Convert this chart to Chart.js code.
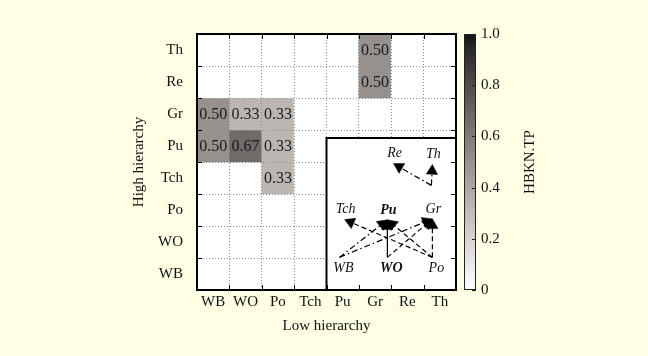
<!DOCTYPE html>
<html><head><meta charset="utf-8">
<script src="https://cdn.jsdelivr.net/npm/chart.js@4"></script>
<style>html,body{margin:0;padding:0;background:#fefee4;} canvas{display:block;}</style>
</head><body>
<canvas id="c" width="648" height="356"></canvas>
<script>
// ---- heatmap data ----
const lowLabels  = ['WB','WO','Po','Tch','Pu','Gr','Re','Th'];
const highLabels = ['Th','Re','Gr','Pu','Tch','Po','WO','WB']; // top to bottom
const rowTh  = [0,0,0,0,0,0.50,0,0];
const rowRe  = [0,0,0,0,0,0.50,0,0];
const rowGr  = [0.50,0.33,0.33,0,0,0,0,0];
const rowPu  = [0.50,0.67,0.33,0,0,0,0,0];
const rowTch = [0,0,0.33,0,0,0,0,0];
const rowPo  = [0,0,0,0,0,0,0,0];
const rowWO  = [0,0,0,0,0,0,0,0];
const rowWB  = [0,0,0,0,0,0,0,0];
const matrix = [rowTh,rowRe,rowGr,rowPu,rowTch,rowPo,rowWO,rowWB];
const cbTicks = [0,0.2,0.4,0.6,0.8,1.0];

// ---- inset network (inset units) ----
const nodeNames  = ['WB','WO','Po','Tch','Pu','Gr','Re','Th','J'];
const nodeLabels = ['WB','WO','Po','Tch','Pu','Gr','Re','Th',''];
const nodeX = [0.40,1.88,3.27,0.56,1.88,3.27,2.07,3.27,3.24];
const nodeY = [1.02,1.02,1.02,2.20,2.19,2.22,3.95,3.92,3.27];
const edgeFrom  = ['WB','WO','Po','WB','WO','Po','Po','J','J'];
const edgeTo    = ['Pu','Pu','Pu','Gr','Gr','Gr','Tch','Re','Th'];
const edgeValue = [0.50,0.67,0.33,0.50,0.33,0.33,0.33,0.50,0.50];
const boldNodes = ['Pu','WO'];
const insetBox = [0,4,0,4.75]; // xmin,xmax,ymin,ymax

const SERIF = "'Liberation Serif','Times New Roman',serif";
Chart.defaults.font.family = SERIF;
Chart.defaults.color = '#111';

function cmapRGB(v){
  const L = 20 + 235*Math.pow(1-v,0.85);
  const t = v*(1-v);
  const c = x => Math.max(0,Math.min(255,Math.round(x)));
  return [c(L+4*t), c(L-22*t), c(L-36*t)];
}
function cmap(v){ const a = cmapRGB(v); return v===0 ? '#ffffff' : `rgb(${a[0]},${a[1]},${a[2]})`; }
function dashFor(v){ return v >= 0.6 ? [] : (v >= 0.45 ? [6,3,1.5,3] : [5,3]); }

const datasets = [];
matrix.forEach((row,i) => {
  const r0 = highLabels.length - 1 - i;
  datasets.push({
    type:'bar', label: highLabels[i], xAxisID:'x', yAxisID:'y', order:10,
    data: row.map(() => [r0, r0+1]),
    cellValues: row,
    backgroundColor: row.map(cmap),
    borderWidth:0, barPercentage:1, categoryPercentage:1, grouped:false
  });
});
const arrowBack = 0.2;
edgeFrom.forEach((f,k) => {
  const a = nodeNames.indexOf(f), b = nodeNames.indexOf(edgeTo[k]);
  const sx = nodeX[a], sy = nodeY[a], tx = nodeX[b], ty = nodeY[b];
  const dx = tx-sx, dy = ty-sy, len = Math.hypot(dx,dy);
  const ax = tx - arrowBack*dx/len, ay = ty - arrowBack*dy/len;
  const ang = Math.atan2(dx,dy)*180/Math.PI;
  datasets.push({
    type:'line', isInset:true, xAxisID:'xi', yAxisID:'yi', order:0,
    data:[{x:sx,y:sy},{x:ax,y:ay}],
    borderColor:'#000', borderWidth:1.2, borderDash: dashFor(edgeValue[k]),
    pointRadius:[0,6.5], pointHoverRadius:[0,6.5], pointStyle:'triangle', pointRotation:[0,ang],
    pointBackgroundColor:'#000', pointBorderColor:'#000', pointBorderWidth:0.5,
    fill:false, tension:0
  });
});

const deco = {
  id:'deco',
  beforeDraw(chart){
    const {ctx, chartArea:a} = chart;
    ctx.save(); ctx.fillStyle='#fff'; ctx.fillRect(a.left,a.top,a.right-a.left,a.bottom-a.top); ctx.restore();
  },
  beforeDatasetsDraw(chart){ chart.$insetStarted = false; },
  beforeDatasetDraw(chart,args){
    const ds = chart.data.datasets[args.index];
    if (!ds.isInset || chart.$insetStarted) return;
    chart.$insetStarted = true;
    const ctx = chart.ctx;
    chart.scales.x.drawGrid(chart.chartArea);
    chart.scales.y.drawGrid(chart.chartArea);
    // cell values
    ctx.save();
    ctx.font = '16px ' + SERIF; ctx.fillStyle = '#1a1a1a';
    ctx.textAlign='center'; ctx.textBaseline='middle';
    chart.data.datasets.forEach((d,di) => {
      if (!d.cellValues) return;
      const meta = chart.getDatasetMeta(di);
      meta.data.forEach((el,j) => {
        const v = d.cellValues[j];
        if (v > 0) { const p = el.getCenterPoint(); ctx.fillText(v.toFixed(2), p.x, p.y+1); }
      });
    });
    ctx.restore();
    // inset frame
    const xs = chart.scales.xi, ys = chart.scales.yi;
    const l = xs.getPixelForValue(insetBox[0]), r = xs.getPixelForValue(insetBox[1]);
    const b = ys.getPixelForValue(insetBox[2]), t = ys.getPixelForValue(insetBox[3]);
    ctx.save();
    ctx.fillStyle='#fff'; ctx.fillRect(l,t,r-l,b-t);
    ctx.strokeStyle='#000'; ctx.lineWidth=2; ctx.strokeRect(l,t,r-l,b-t);
    ctx.restore();
  },
  afterDatasetsDraw(chart){
    const ctx = chart.ctx, xs = chart.scales.xi, ys = chart.scales.yi;
    ctx.save();
    ctx.fillStyle='#111'; ctx.textAlign='center'; ctx.textBaseline='middle';
    nodeNames.forEach((n,i) => {
      if (!nodeLabels[i]) return;
      const isTarget = edgeTo.includes(n);
      ctx.font = (boldNodes.includes(n) ? 'italic bold ' : 'italic ') + '14px ' + SERIF;
      ctx.fillText(nodeLabels[i], xs.getPixelForValue(nodeX[i]) + (isTarget?1:4), ys.getPixelForValue(nodeY[i]) + (isTarget?-10:11));
    });
    ctx.restore();
  },
  afterDraw(chart){
    const ctx = chart.ctx, a = chart.chartArea, sx = chart.scales.x, sy = chart.scales.y;
    ctx.save();
    ctx.strokeStyle='#000'; ctx.lineWidth=1;
    ctx.beginPath();
    for (let i=1;i<lowLabels.length;i++){
      const px = Math.round((sx.getPixelForValue(i-1)+sx.getPixelForValue(i))/2)+0.5;
      ctx.moveTo(px,a.bottom); ctx.lineTo(px,a.bottom-5);
      ctx.moveTo(px,a.top); ctx.lineTo(px,a.top+5);
    }
    for (let i=1;i<highLabels.length;i++){
      const py = Math.round(sy.getPixelForValue(i))+0.5;
      ctx.moveTo(a.left,py); ctx.lineTo(a.left+5,py);
      ctx.moveTo(a.right,py); ctx.lineTo(a.right-5,py);
    }
    ctx.stroke();
    ctx.lineWidth=2;
    ctx.strokeRect(a.left,a.top,a.right-a.left,a.bottom-a.top);
    // colorbar
    const cb = chart.scales.cb;
    const x0 = a.right + 8, w = 12;
    const yTop = cb.getPixelForValue(1), yBot = cb.getPixelForValue(0);
    const g = ctx.createLinearGradient(0,yBot,0,yTop);
    for (let k=0;k<=20;k++){ const v=k/20; const c=cmapRGB(v); g.addColorStop(v,`rgb(${c[0]},${c[1]},${c[2]})`); }
    ctx.fillStyle=g; ctx.fillRect(x0,yTop,w,yBot-yTop);
    ctx.lineWidth=1; ctx.strokeStyle='#222'; ctx.strokeRect(x0+0.5,yTop+0.5,w-1,yBot-yTop-1);
    ctx.beginPath();
    cbTicks.forEach(v => { const py = Math.round(cb.getPixelForValue(v))+0.5; ctx.moveTo(x0+w,py); ctx.lineTo(x0+w-4,py); });
    ctx.stroke();
    ctx.translate(a.right+74,(a.top+a.bottom)/2);
    ctx.rotate(-Math.PI/2);
    ctx.font='15px '+SERIF; ctx.fillStyle='#111'; ctx.textAlign='center'; ctx.textBaseline='middle';
    ctx.fillText('HBKN.TP',0,0);
    ctx.restore();
  }
};

const hiddenAxis = (pos, min, max, horiz) => ({
  type:'linear', position:pos, display:true, min, max, weight:-1, offset:false, beginAtZero:false,
  ticks:{display:false}, grid:{display:false, drawTicks:false, offset:false}, border:{display:false},
  afterFit: s => { if (horiz) s.height = 0; else s.width = 0; }
});

new Chart(document.getElementById('c'), {
  type:'bar',
  data:{ labels: lowLabels, datasets },
  options:{
    responsive:false, animation:false, events:[],
    devicePixelRatio:1,
    layout:{ padding:{left:120,right:122,top:31,bottom:0} },
    plugins:{ legend:{display:false}, tooltip:{enabled:false} },
    scales:{
      x:{ type:'category', position:'bottom', offset:true,
          grid:{ offset:true, color:'#8a8a8a', lineWidth:1, drawTicks:false },
          border:{ display:false, dash:[1,2] },
          ticks:{ font:{size:15}, color:'#111', padding:3 },
          title:{ display:true, text:'Low hierarchy', font:{size:15}, color:'#111', padding:{top:0,bottom:21} },
          afterFit: s => { s.height = 66; } },
      y:{ type:'linear', position:'left', min:0, max:8, weight:0, offset:false,
          ticks:{ display:false, stepSize:1 },
          grid:{ color:'#8a8a8a', lineWidth:1, drawTicks:false },
          border:{ display:false, dash:[1,2] },
          afterFit: s => { s.width = 0; } },
      yl:{ type:'category', position:'left', labels: highLabels, offset:true, weight:1,
          grid:{ display:false, drawTicks:false }, border:{ display:false },
          ticks:{ font:{size:15}, color:'#111', padding:14 },
          title:{ display:true, text:'High hierarchy', font:{size:15}, color:'#111', padding:{top:10,bottom:0} },
          afterFit: s => { s.width = 77; } },
      cb:{ type:'linear', position:'right', min:0, max:1, offset:false,
          afterBuildTicks: s => { s.ticks = cbTicks.map(v => ({value:v})); },
          grid:{ display:false, drawTicks:false }, border:{ display:false },
          ticks:{ font:{size:15}, color:'#111', padding:25, callback: v => v===0 ? '0' : Number(v).toFixed(1) },
          afterFit: s => { s.width = 70; } },
      xi: hiddenAxis('bottom', -4, 4, true),
      yi: hiddenAxis('left', 0, 8, false)
    }
  },
  plugins:[deco]
});
</script>
</body></html>
